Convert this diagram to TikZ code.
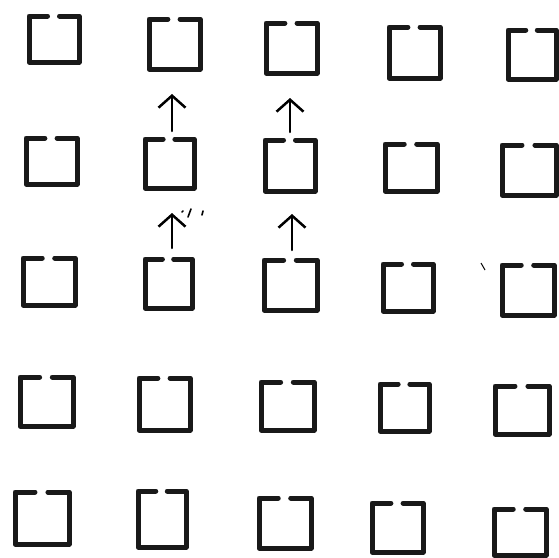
\documentclass[tikz,border=0pt]{standalone}
\usetikzlibrary{calc,arrows.meta}
\tikzset{
  cell/.style={rectangle,draw=none,inner sep=0pt,outer sep=0pt},
  bracket/.style={line width=5pt,line join=round,line cap=round,black!90},
  uparrow/.style={line width=2.5pt,line cap=round,-{Straight Barb[length=12pt,width=27pt,line width=2.5pt]}},
  speck/.style={line width=1.6pt,line cap=round}
}
% \sq{name}{x1}{y1}{x2}{y2}
\newcommand{\sq}[5]{%
  \node[cell,minimum width={(#4-#2)*1pt},minimum height={(#5-#3)*1pt}] (#1) at ({(#2+#4)/2},{(#3+#5)/2}) {};
  \draw[bracket] ($(#1.north west)!0.37!(#1.north east)$) -- (#1.north west) -- (#1.south west) -- (#1.south east) -- (#1.north east) -- ($(#1.north west)!0.61!(#1.north east)$);
}
\begin{document}
\begin{tikzpicture}[x=1pt,y=-1pt]
\useasboundingbox (0,0) rectangle (559,557);
% row 1
\sq{a1}{29}{16}{79}{62}
\sq{a2}{149}{19}{200}{69}
\sq{a3}{266}{23}{317}{73}
\sq{a4}{389}{27}{440}{78}
\sq{a5}{508}{30}{556}{79}
% row 2
\sq{b1}{26}{138}{77}{184}
\sq{b2}{145}{139}{194}{188}
\sq{b3}{265}{140}{315}{191}
\sq{b4}{385}{144}{437}{191}
\sq{b5}{502}{145}{556}{195}
% row 3
\sq{c1}{23}{258}{75}{305}
\sq{c2}{145}{259}{192}{308}
\sq{c3}{264}{260}{317}{310}
\sq{c4}{383}{264}{433}{311}
\sq{c5}{502}{265}{554}{315}
% row 4
\sq{d1}{20}{377}{73}{426}
\sq{d2}{139}{378}{190}{430}
\sq{d3}{261}{382}{314}{430}
\sq{d4}{380}{384}{429}{431}
\sq{d5}{495}{386}{549}{434}
% row 5
\sq{e1}{15}{492}{69}{544}
\sq{e2}{138}{491}{186}{547}
\sq{e3}{259}{498}{311}{548}
\sq{e4}{372}{503}{423}{552}
\sq{e5}{494}{509}{546}{555}
% arrows
\draw[uparrow] ([xshift=2.5pt,yshift=8pt]b2.north) -- ([xshift=-2.5pt,yshift=-25pt]a2.south);
\draw[uparrow] ([xshift=0pt,yshift=8pt]b3.north) -- ([xshift=-1.5pt,yshift=-25pt]a3.south);
\draw[uparrow] ([xshift=3.5pt,yshift=11pt]c2.north) -- ([xshift=2.5pt,yshift=-25pt]b2.south);
\draw[uparrow] ([xshift=1.5pt,yshift=10pt]c3.north) -- ([xshift=2pt,yshift=-23pt]b3.south);
% specks
\draw[speck] (188,217) -- (191,209);
\draw[speck] (202,215) -- (203,211);
\draw[speck] (182,212) -- (183,211);
\draw[line width=1pt] (481,263) -- (485,270);
\end{tikzpicture}
\end{document}
